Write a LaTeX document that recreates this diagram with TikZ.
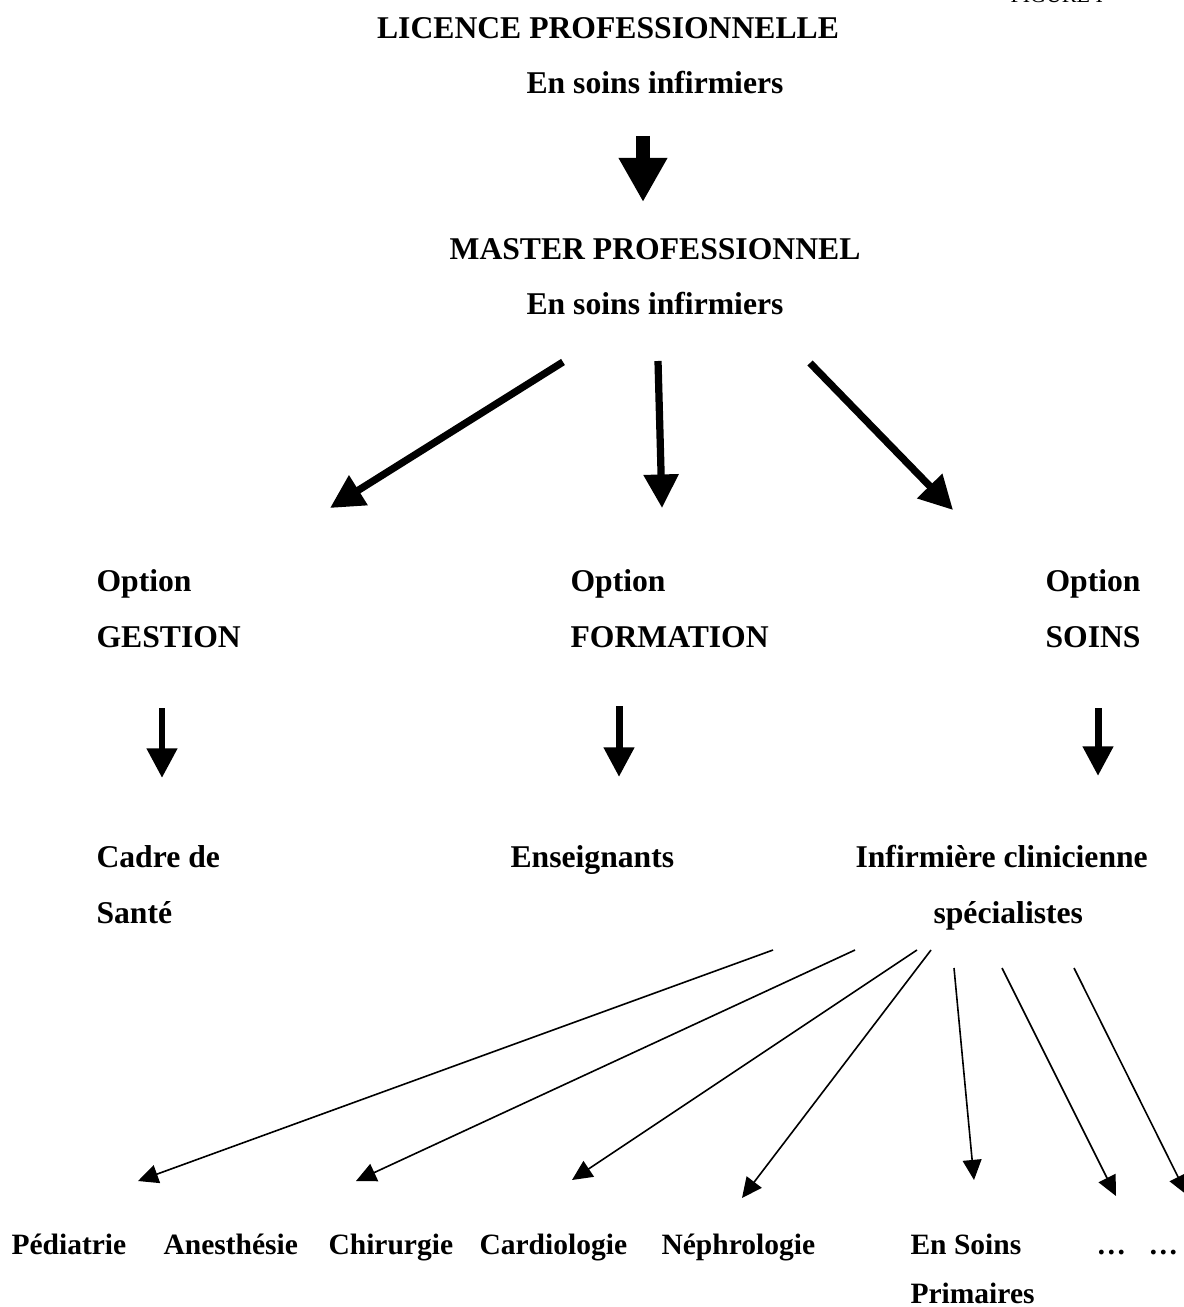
\documentclass[tikz,border=0pt]{standalone}
\usepackage{fontspec}
\setmainfont{Liberation Serif}
\usepackage{tikz}
\usetikzlibrary{arrows.meta}

\tikzset{
    lbl/.style={font=\fontsize{11.8}{14}\selectfont\bfseries, inner sep=0pt, anchor=base west},
    speclbl/.style={lbl, font=\fontsize{11}{13}\selectfont\bfseries},
    blockarrow/.style={line width=4.9pt, -{Triangle[length=16.4pt, width=17pt]}},
    bigarrow/.style={line width=2.7pt, -{Triangle[length=12.5pt, width=12.5pt]}},
    smallarrow/.style={line width=2.6pt, -{Triangle[length=11pt, width=10.8pt]}},
    thinarrow/.style={line width=0.6pt, -{Triangle[length=7.5pt, width=7pt]}}
}

\begin{document}
\begin{tikzpicture}[x=0.3727pt, y=-0.3727pt]
            \useasboundingbox (0,0) rectangle (1183,1307);
            \node [font=\fontsize{8.2}{10}\selectfont, inner sep=0pt, anchor=base west] (fig) at (1010,3) {FIGURE I};
            \node [lbl, anchor=base] (licence) at (608,39) {LICENCE PROFESSIONNELLE};
            \node [lbl, anchor=base] (soinsA) at (655,94) {En soins infirmiers};
            \node [lbl, anchor=base] (master) at (655,260) {MASTER PROFESSIONNEL};
            \node [lbl, anchor=base] (soinsB) at (655,315) {En soins infirmiers};
            \node [lbl] (optG) at (96,591) {Option};
            \node [lbl] (gestion) at (96,647) {GESTION};
            \node [lbl] (optF) at (570,591) {Option};
            \node [lbl] (formation) at (570,647) {FORMATION};
            \node [lbl] (optS) at (1045,591) {Option};
            \node [lbl] (soinsopt) at (1045,647) {SOINS};
            \node [lbl] (cadre) at (96,867) {Cadre de};
            \node [lbl] (sante) at (96,923) {Santé};
            \node [lbl] (ens) at (510,867) {Enseignants};
            \node [lbl] (infirm) at (855,867) {Infirmière clinicienne};
            \node [lbl] (spec) at (933,923) {spécialistes};
            \node [speclbl] (ped) at (11,1254) {Pédiatrie};
            \node [speclbl] (anes) at (163,1254) {Anesthésie};
            \node [speclbl] (chir) at (328,1254) {Chirurgie};
            \node [speclbl] (cardio) at (479,1254) {Cardiologie};
            \node [speclbl] (nephro) at (661,1254) {Néphrologie};
            \node [speclbl] (primA) at (910,1254) {En Soins};
            \node [speclbl] (primB) at (910,1303) {Primaires};
            \node [speclbl] (etcA) at (1096,1254) {…};
            \node [speclbl] (etcB) at (1148,1254) {…};

            \coordinate (LM-a) at (643,136);
            \coordinate (LM-b) at (643,202);
            \draw [blockarrow] (LM-a) -- (LM-b);

            \coordinate (G-a) at (563,362);
            \coordinate (G-b) at (330,508);
            \coordinate (F-a) at (658,361);
            \coordinate (F-b) at (662,508);
            \coordinate (S-a) at (810,363);
            \coordinate (S-b) at (953,510);
            \foreach \Opt in {G, F, S}{
                \draw [bigarrow] (\Opt-a) -- (\Opt-b);
            }

            \coordinate (cad-a) at (162,708);
            \coordinate (cad-b) at (162,778);
            \coordinate (ens-a) at (619,706);
            \coordinate (ens-b) at (619,777);
            \coordinate (inf-a) at (1098,708);
            \coordinate (inf-b) at (1098,776);
            \foreach \Job in {cad, ens, inf}{
                \draw [smallarrow] (\Job-a) -- (\Job-b);
            }

            \coordinate (sp1-a) at (773,950);
            \coordinate (sp1-b) at (138,1181);
            \coordinate (sp2-a) at (855,950);
            \coordinate (sp2-b) at (356,1181);
            \coordinate (sp3-a) at (917,950);
            \coordinate (sp3-b) at (572,1180);
            \coordinate (sp4-a) at (931,950);
            \coordinate (sp4-b) at (742,1198);
            \coordinate (sp5-a) at (954,968);
            \coordinate (sp5-b) at (974,1180);
            \coordinate (sp6-a) at (1002,968);
            \coordinate (sp6-b) at (1116,1196);
            \coordinate (sp7-a) at (1074,968);
            \coordinate (sp7-b) at (1187,1195);
            \foreach \Sp in {1,...,7}{
                \draw [thinarrow] (sp\Sp-a) -- (sp\Sp-b);
            }
        \end{tikzpicture}
\end{document}
